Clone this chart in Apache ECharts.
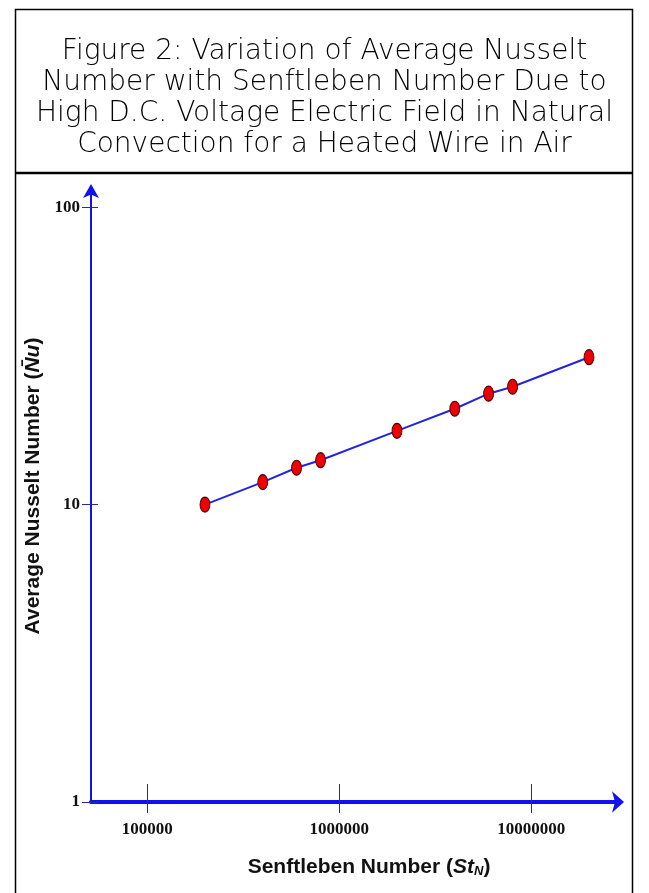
<!DOCTYPE html>
<html>
<head>
<meta charset="utf-8">
<script src="https://cdn.jsdelivr.net/npm/echarts@6/dist/echarts.min.js"></script>
<style>
  html, body { margin: 0; padding: 0; background: #fff; }
  #chart { width: 649px; height: 893px; }
</style>
</head>
<body>
<div id="chart"></div>
<script>
// Senftleben number (x) and average Nusselt number (y)
var stN = [2e5, 4e5, 6e5, 8e5, 2e6, 4e6, 6e6, 8e6, 2e7];
var nuAvg = [10, 11.9, 13.3, 14.1, 17.7, 21.0, 23.6, 24.9, 31.3];

var xTicks = [1e5, 1e6, 1e7];
var yTicks = [1, 10, 100];

var titleText = "Figure 2: Variation of Average Nusselt\nNumber with Senftleben Number Due to\nHigh D.C. Voltage Electric Field in Natural\nConvection for a Heated Wire in Air";

var data = [];
for (let i = 0; i < stN.length; i++) {
  data.push([stN[i], nuAvg[i]]);
}

var blue = "#1010f0";
var tickColor = "#2a2aa8";
var labelFont = { fontFamily: "Liberation Serif", fontWeight: "bold", fontSize: 17, color: "#111" };
// plain numbers, no thousands separators
var plain = function (v) { return String(Math.round(v)); };

var option = {
  animation: false,
  backgroundColor: "#fff",
  title: {
    text: titleText,
    left: "center",
    top: 31,
    textStyle: {
      fontFamily: "DejaVu Sans",
      fontWeight: 200,
      fontSize: 28,
      lineHeight: 31,
      color: "#000"
    }
  },
  graphic: [
    { type: "rect", shape: { x: 15.5, y: 9.5, width: 617, height: 900 }, style: { fill: null, stroke: "#000", lineWidth: 1.5 } },
    { type: "line", shape: { x1: 15, y1: 173, x2: 633, y2: 173 }, style: { stroke: "#000", lineWidth: 2.5 } }
  ],
  grid: { left: 91, right: 29, top: 188, bottom: 91 },
  xAxis: [
    {
      type: "log",
      min: 51000,
      max: 2.9e7,
      position: "bottom",
      name: "{b|Senftleben Number (}{i|St}{s|N}{b|)}",
      nameLocation: "middle",
      nameGap: 54,
      nameTextStyle: {
        padding: [0, 0, 0, 27],
        rich: {
          b: { fontFamily: "Liberation Sans", fontWeight: "bold", fontSize: 21, color: "#111" },
          i: { fontFamily: "Liberation Sans", fontWeight: "bold", fontStyle: "italic", fontSize: 21, color: "#111" },
          s: { fontFamily: "Liberation Sans", fontWeight: "bold", fontStyle: "italic", fontSize: 13, color: "#111", verticalAlign: "bottom", padding: [9, 0, 0, 0] }
        }
      },
      axisLine: { lineStyle: { color: blue, width: 4 }, symbol: ["none", "arrow"], symbolSize: [16, 12], symbolOffset: [0, 4] },
      axisTick: { inside: true, length: 18, customValues: xTicks, lineStyle: { color: tickColor, width: 1 } },
      axisLabel: Object.assign({ margin: 19, customValues: xTicks, formatter: plain }, labelFont),
      splitLine: { show: false },
      minorTick: { show: false }
    },
    {
      type: "log",
      min: 51000,
      max: 2.9e7,
      position: "bottom",
      axisLine: { show: false },
      axisTick: { inside: false, length: 11, customValues: xTicks, lineStyle: { color: tickColor, width: 1 } },
      axisLabel: { show: false },
      splitLine: { show: false }
    }
  ],
  yAxis: [
    {
      type: "log",
      min: 1,
      max: 116,
      position: "left",
      name: "{b|Average Nusselt Number (}{i|N\u0304u}{b|)}",
      nameLocation: "middle",
      nameGap: 37,
      nameTextStyle: {
        padding: [0, 0, 0, 18],
        rich: {
          b: { fontFamily: "Liberation Sans", fontWeight: "bold", fontSize: 21, color: "#111" },
          i: { fontFamily: "Liberation Sans", fontWeight: "bold", fontStyle: "italic", fontSize: 21, color: "#111" }
        }
      },
      axisLine: { lineStyle: { color: blue, width: 2 }, symbol: ["none", "arrow"], symbolSize: [12, 14], symbolOffset: [0, 4] },
      axisTick: { inside: false, length: 9, customValues: yTicks, lineStyle: { color: tickColor, width: 1 } },
      axisLabel: Object.assign({ margin: 11, customValues: yTicks, formatter: plain }, labelFont),
      splitLine: { show: false },
      minorTick: { show: false }
    },
    {
      type: "log",
      min: 1,
      max: 116,
      position: "left",
      axisLine: { show: false },
      axisTick: { inside: true, length: 7, customValues: yTicks, lineStyle: { color: tickColor, width: 1 } },
      axisLabel: { show: false },
      splitLine: { show: false }
    }
  ],
  series: [
    {
      name: "Nu",
      type: "line",
      data: data,
      xAxisIndex: 0,
      yAxisIndex: 0,
      symbol: "circle",
      symbolSize: [10, 15],
      lineStyle: { color: "#2424d8", width: 2 },
      itemStyle: { color: "#ee0000", borderColor: "#4a0000", borderWidth: 1 }
    }
  ]
};

var myChart = echarts.init(document.getElementById("chart"));
myChart.setOption(option);
</script>
</body>
</html>
